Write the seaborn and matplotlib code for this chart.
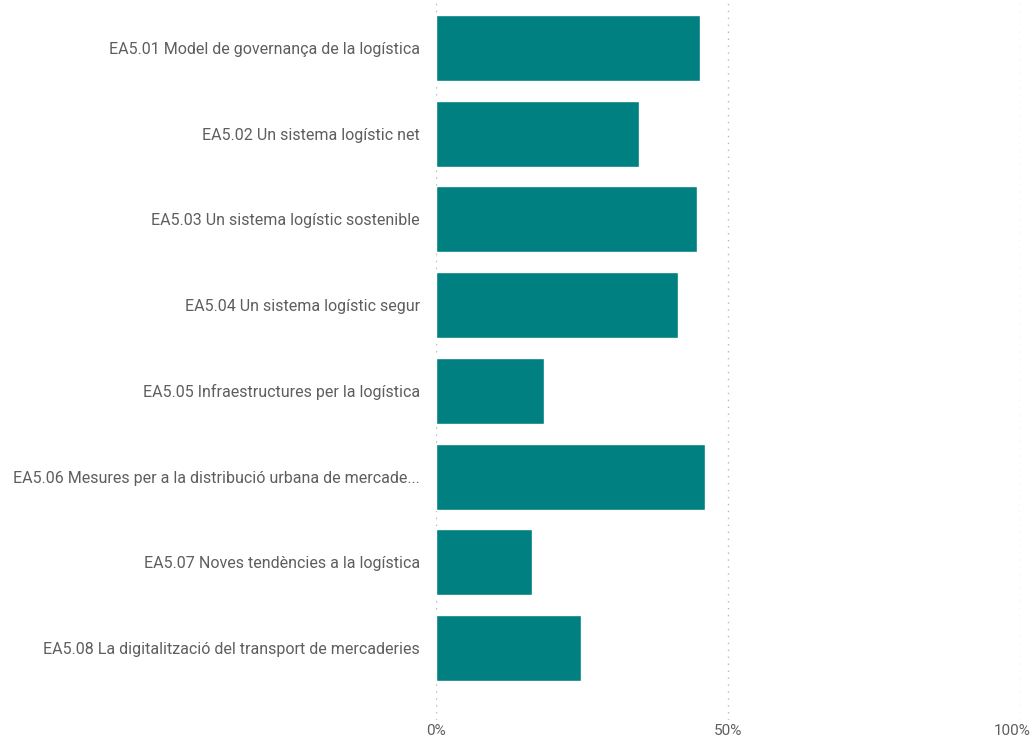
import matplotlib
matplotlib.use("Agg")
import matplotlib.pyplot as plt
import matplotlib.transforms as mtransforms
import seaborn as sns
import pandas as pd
from matplotlib.ticker import FuncFormatter

categories = [
    "EA5.01 Model de governança de la logística",
    "EA5.02 Un sistema logístic net",
    "EA5.03 Un sistema logístic sostenible",
    "EA5.04 Un sistema logístic segur",
    "EA5.05 Infraestructures per la logística",
    "EA5.06 Mesures per a la distribució urbana de mercade...",
    "EA5.07 Noves tendències a la logística",
    "EA5.08 La digitalització del transport de mercaderies",
]
values = [45.2, 34.8, 44.7, 41.4, 18.5, 46.1, 16.4, 24.8]
x_ticks = [0, 50, 100]

df = pd.DataFrame({"cat": categories, "val": values})

sns.set_theme(style="white")
plt.rcParams["font.family"] = ["Roboto", "DejaVu Sans"]

fig = plt.figure(figsize=(10.33, 7.42), dpi=100)
ax = fig.add_axes([436 / 1033, 1 - 720 / 742, (1020 - 436) / 1033, 720 / 742])

sns.barplot(data=df, x="val", y="cat", orient="h", color="#008080",
            saturation=1, width=0.77, ax=ax)

ax.set_xlim(0, 100)
ax.set_ylim(7.84, -0.56)
ax.set_xticks(x_ticks)
ax.xaxis.set_major_formatter(FuncFormatter(lambda v, p: f"{int(v)}%"))
for xv in x_ticks:
    ax.axvline(xv, color="#b8b8b8", linestyle=(0, (1, 4)), linewidth=1, zorder=0)
ax.set_xlabel("")
ax.set_ylabel("")
for s in ax.spines.values():
    s.set_visible(False)
ax.tick_params(axis="both", length=0, labelcolor="#605E5C")
ax.tick_params(axis="y", labelsize=11.5, pad=11.5)
ax.tick_params(axis="x", labelsize=11, pad=3)

# keep the last tick label inside the figure
fig.canvas.draw()
last = ax.get_xticklabels()[-1]
last.set_horizontalalignment("right")
last.set_transform(last.get_transform() + mtransforms.ScaledTranslation(11 / 100, 0, fig.dpi_scale_trans))

fig.savefig("out.png", dpi=100)
